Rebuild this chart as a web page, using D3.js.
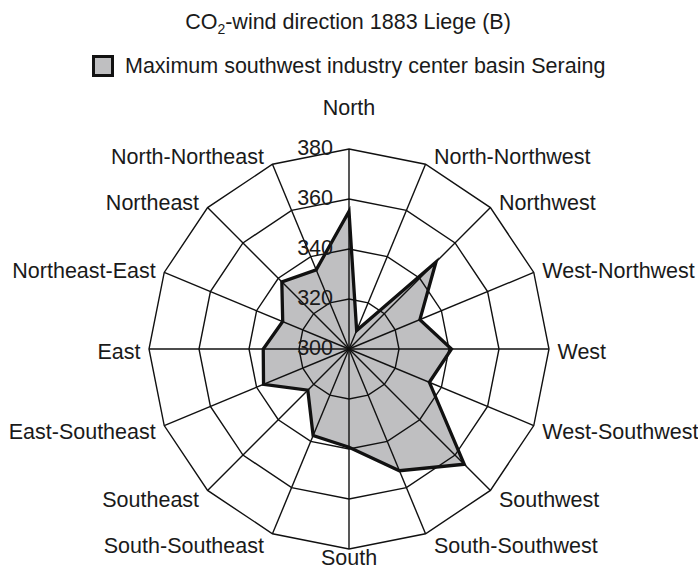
<!DOCTYPE html>
<html>
<head>
<meta charset="utf-8">
<script src="https://cdn.jsdelivr.net/npm/d3@7"></script>
<style>
  body { margin: 0; background: #fff; }
  text { font-family: "Liberation Sans", Arial, sans-serif; fill: #1a1a1a; }
</style>
</head>
<body>
<svg id="chart"></svg>
<script>
// directions, clockwise from the top
var directions = ["North", "North-Northwest", "Northwest", "West-Northwest", "West",
        "West-Southwest", "Southwest", "South-Southwest", "South", "South-Southeast",
        "Southeast", "East-Southeast", "East", "Northeast-East", "Northeast", "North-Northeast"]

// CO2 values (ppm)
var co2 = [355, 308, 349.2, 330.7, 341, 334.8, 365.2, 352.7, 339.3, 337.5,
        323.3, 337, 334.3, 328.7, 338, 334.3]

var ticks = [300, 320, 340, 360, 380]

var seriesName = "Maximum southwest industry center basin Seraing"

var dimensions = {
        width: 698,
        height: 569,
        cx: 349,
        cy: 349,
        radius: 200
}

var fontSize = "21.5px"

var svg = d3.select("#chart")
        .attr("width", dimensions.width)
        .attr("height", dimensions.height)

var rScale = d3.scaleLinear()
        .domain([300, 380])
        .range([0, dimensions.radius])

var angle = d3.scaleLinear()
        .domain([0, directions.length])
        .range([0, 2 * Math.PI])

function point(i, v) {
        var a = angle(i)
        return [dimensions.cx + rScale(v) * Math.sin(a), dimensions.cy - rScale(v) * Math.cos(a)]
}

var radial = d3.lineRadial()
        .angle(function (d, i) { return angle(i) })
        .radius(function (d) { return rScale(d) })
        .curve(d3.curveLinearClosed)

var bounds = svg.append("g")
        .attr("transform", "translate(" + dimensions.cx + "," + dimensions.cy + ")")

// filled area first, grid over it
bounds.append("path")
        .datum(co2)
        .attr("d", radial)
        .attr("fill", "#bfbfc1")
        .attr("stroke", "none")

// rings
bounds.selectAll(".ring")
        .data(ticks.slice(1))
        .enter()
        .append("path")
        .attr("class", "ring")
        .attr("d", function (t) { return radial(directions.map(function () { return t })) })
        .attr("fill", "none")
        .attr("stroke", "#111")
        .attr("stroke-width", 1.4)

// spokes
bounds.selectAll(".spoke")
        .data(directions)
        .enter()
        .append("line")
        .attr("class", "spoke")
        .attr("x1", 0).attr("y1", 0)
        .attr("x2", function (d, i) { return rScale(380) * Math.sin(angle(i)) })
        .attr("y2", function (d, i) { return -rScale(380) * Math.cos(angle(i)) })
        .attr("stroke", "#111")
        .attr("stroke-width", 1.4)

// outline of the series
bounds.append("path")
        .datum(co2)
        .attr("d", radial)
        .attr("fill", "none")
        .attr("stroke", "#111")
        .attr("stroke-width", 3.3)
        .attr("stroke-linejoin", "miter")

// category labels
svg.selectAll(".dirLabel")
        .data(directions)
        .enter()
        .append("text")
        .attr("class", "dirLabel")
        .style("font-size", fontSize)
        .attr("text-anchor", function (d, i) {
                var s = Math.sin(angle(i))
                return Math.abs(s) < 0.01 ? "middle" : (s > 0 ? "start" : "end")
        })
        .attr("x", function (d, i) {
                var p = point(i, 380), s = Math.sin(angle(i))
                return Math.abs(s) < 0.01 ? p[0] : p[0] + (s > 0 ? 8.5 : -8.5)
        })
        .attr("y", function (d, i) {
                var p = point(i, 380), c = Math.cos(angle(i))
                if (i === 0) return p[1] - 34
                if (Math.abs(c + 1) < 0.01) return p[1] + 16
                return p[1] - c * 10 + 2 + 7.5
        })
        .text(function (d) { return d })

// value axis labels along the North spoke
bounds.selectAll(".tick")
        .data(ticks)
        .enter()
        .append("text")
        .attr("class", "tick")
        .style("font-size", fontSize)
        .attr("text-anchor", "end")
        .attr("x", -16)
        .attr("y", function (t) { return -rScale(t) + 5.5 })
        .text(function (t) { return t })

// title
var title = svg.append("text")
        .attr("x", 348)
        .attr("y", 29)
        .attr("text-anchor", "middle")
        .style("font-size", fontSize)
title.append("tspan").text("CO")
title.append("tspan").text("2").style("font-size", "14px").attr("dy", 5)
title.append("tspan").text("-wind direction 1883 Liege (B)").attr("dy", -5)

// legend
var legend = svg.append("g")
legend.append("rect")
        .attr("x", 93.5).attr("y", 56.5)
        .attr("width", 19).attr("height", 19)
        .attr("fill", "#bfbfc1")
        .attr("stroke", "#111")
        .attr("stroke-width", 3)
legend.append("text")
        .attr("x", 125)
        .attr("y", 73)
        .style("font-size", fontSize)
        .text(seriesName)
</script>
</body>
</html>
